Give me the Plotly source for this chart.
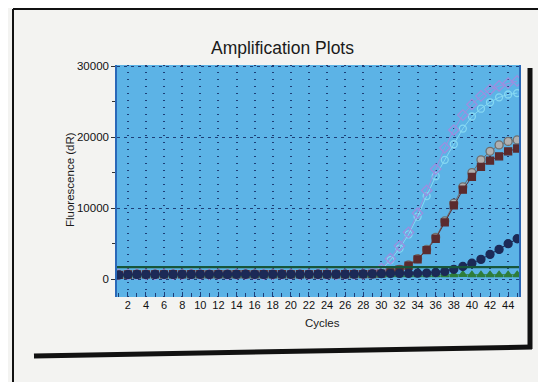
import plotly.graph_objects as go

cycles = list(range(1, 46))

purple_open = [650, 700, 720, 680, 700, 710, 690, 700, 720, 700, 690, 710, 700, 720, 710,
               700, 690, 700, 720, 710, 700, 690, 710, 720, 700, 710, 730, 760, 900,
               1500, 2900, 4700, 6600, 9300, 12500, 15500, 18500, 21000, 23100, 24600,
               25800, 26700, 27200, 27600, 27900]
cyan_open = [640, 690, 700, 690, 700, 700, 700, 710, 700, 690, 700, 700, 710, 700, 700,
             690, 700, 710, 700, 700, 690, 700, 700, 710, 700, 720, 730, 750, 850,
             1300, 2700, 4300, 6300, 8800, 11700, 14500, 16800, 19000, 21200, 22900,
             24000, 24900, 25600, 26000, 26200]
gray_circ = [620, 680, 700, 690, 700, 690, 700, 700, 710, 700, 690, 700, 700, 710, 700,
             700, 690, 700, 710, 700, 700, 690, 700, 710, 700, 700, 720, 730, 760,
             800, 1000, 1400, 2000, 2900, 4200, 5900, 8200, 10700, 13000, 15000,
             16800, 18000, 18900, 19400, 19600]
maroon_sq = [610, 670, 690, 680, 690, 690, 700, 690, 700, 700, 690, 700, 690, 700, 700,
             690, 700, 700, 700, 690, 700, 690, 700, 700, 690, 700, 710, 720, 740,
             780, 950, 1350, 1900, 2800, 4100, 5700, 8000, 10400, 12600, 14400,
             15800, 16700, 17300, 18000, 18400]
navy_circ = [600, 660, 680, 670, 680, 690, 680, 690, 680, 690, 680, 690, 680, 690, 700,
             690, 680, 690, 700, 690, 680, 690, 700, 690, 700, 700, 720, 740, 760,
             780, 800, 820, 830, 850, 870, 950, 1100, 1400, 1800, 2250, 2800,
             3500, 4200, 5000, 5700]
green_tri = [550, 600, 620, 610, 620, 620, 610, 620, 630, 620, 610, 620, 620, 630, 620,
             610, 620, 630, 620, 610, 620, 630, 620, 610, 620, 630, 620, 610, 620,
             630, 620, 610, 620, 630, 620, 610, 620, 630, 640, 620, 610, 630, 620,
             610, 630]
THRESHOLD = 1700

x_ticks = list(range(2, 45, 2))
y_ticks = [0, 10000, 20000, 30000]

# page body adds an 8px offset; work in screen pixels and shift
OFF = 8
W, H = 546 - OFF, 382 - OFF
L, R, T, B = 117 - OFF, 519 - OFF, 65 - OFF, 297 - OFF


def px(x):
    return (x - OFF - L) / (R - L)


def py(y):
    return (B - (y - OFF)) / (B - T)


fig = go.Figure()

series = [
    (cyan_open, "circle-open", "#86d8f2", 7, "#86d8f2"),
    (purple_open, "diamond-open", "#9c8fe0", 8, "#9c8fe0"),
    (gray_circ, "circle", "#b0b0b0", 8, "#6e6e6e"),
    (maroon_sq, "square", "#5b2b2e", 7, "#5b2b2e"),
    (green_tri, "triangle-up", "#2f7d3a", 7, "#2f7d3a"),
    (navy_circ, "circle", "#1c2a57", 8, "#1c2a57"),
]
for vals, sym, col, size, lcol in series:
    fig.add_trace(go.Scatter(
        x=cycles, y=vals, mode="lines+markers",
        line=dict(color=lcol, width=1),
        marker=dict(symbol=sym, color=col, size=size,
                    line=dict(color=lcol, width=1.3)),
        showlegend=False, hoverinfo="skip"))

fig.add_hline(y=THRESHOLD, line=dict(color="#17563a", width=2.2))

shapes = [
    dict(type="line", xref="paper", yref="paper", x0=px(13), x1=px(13), y0=py(9), y1=py(382),
         line=dict(color="#111", width=2)),
    dict(type="line", xref="paper", yref="paper", x0=px(13), x1=px(546), y0=py(9), y1=py(9),
         line=dict(color="#111", width=2)),
    dict(type="line", xref="paper", yref="paper", x0=px(530), x1=px(530), y0=py(68), y1=py(349),
         line=dict(color="#111", width=5)),
    dict(type="line", xref="paper", yref="paper", x0=px(34), x1=px(532), y0=py(356), y1=py(347),
         line=dict(color="#111", width=5)),
]
for s in shapes:
    fig.add_shape(**s)

fig.add_annotation(text="Amplification Plots", xref="paper", yref="paper",
                   x=px(282), y=py(36), showarrow=False,
                   font=dict(size=17.5, color="#1a1a1a", family="Liberation Sans, Arial"))
fig.add_annotation(text="Cycles", xref="paper", yref="paper",
                   x=px(322), y=py(331), showarrow=False,
                   font=dict(size=11.5, color="#1a1a1a", family="Liberation Sans, Arial"))
fig.add_annotation(text="Fluorescence (dR)", xref="paper", yref="paper",
                   x=px(62), y=py(180), showarrow=False, textangle=-90,
                   font=dict(size=11.5, color="#1a1a1a", family="Liberation Sans, Arial"))

fig.update_layout(
    width=W, height=H,
    margin=dict(l=L, r=W - R, t=T, b=H - B, autoexpand=False),
    paper_bgcolor="#f3f3f1",
    plot_bgcolor="#5cb3e6",
    font=dict(family="Liberation Sans, Arial", color="#1a1a1a"),
)
fig.update_xaxes(
    range=[0.8, 45.2], tickmode="array", tickvals=x_ticks, ticktext=[str(t) for t in x_ticks],
    showgrid=True, gridcolor="#1d3f78", griddash="1px,6px", gridwidth=1.6,
    ticks="inside", ticklen=5, tickcolor="#1d3f78", tickwidth=1,
    minor=dict(dtick=1, tick0=1, ticks="inside", ticklen=4, tickcolor="#1d3f78", showgrid=False),
    tickfont=dict(size=11, color="#111"),
    showline=False, zeroline=False, fixedrange=True,
)
fig.update_yaxes(
    range=[-2500, 30150], tickmode="array", tickvals=y_ticks, ticktext=[str(t) for t in y_ticks],
    showgrid=True, gridcolor="#1d3f78", griddash="3px,4px", gridwidth=1.4,
    ticks="outside", ticklen=4, tickcolor="#333", tickwidth=1,
    minor=dict(dtick=5000, tick0=0, ticks="outside", ticklen=3, tickcolor="#333", showgrid=False),
    tickfont=dict(size=11.5, color="#111"),
    showline=True, linecolor="#2a68b8", linewidth=1.5, mirror=True,
    zeroline=False, fixedrange=True,
)

fig.write_html("out.html")
